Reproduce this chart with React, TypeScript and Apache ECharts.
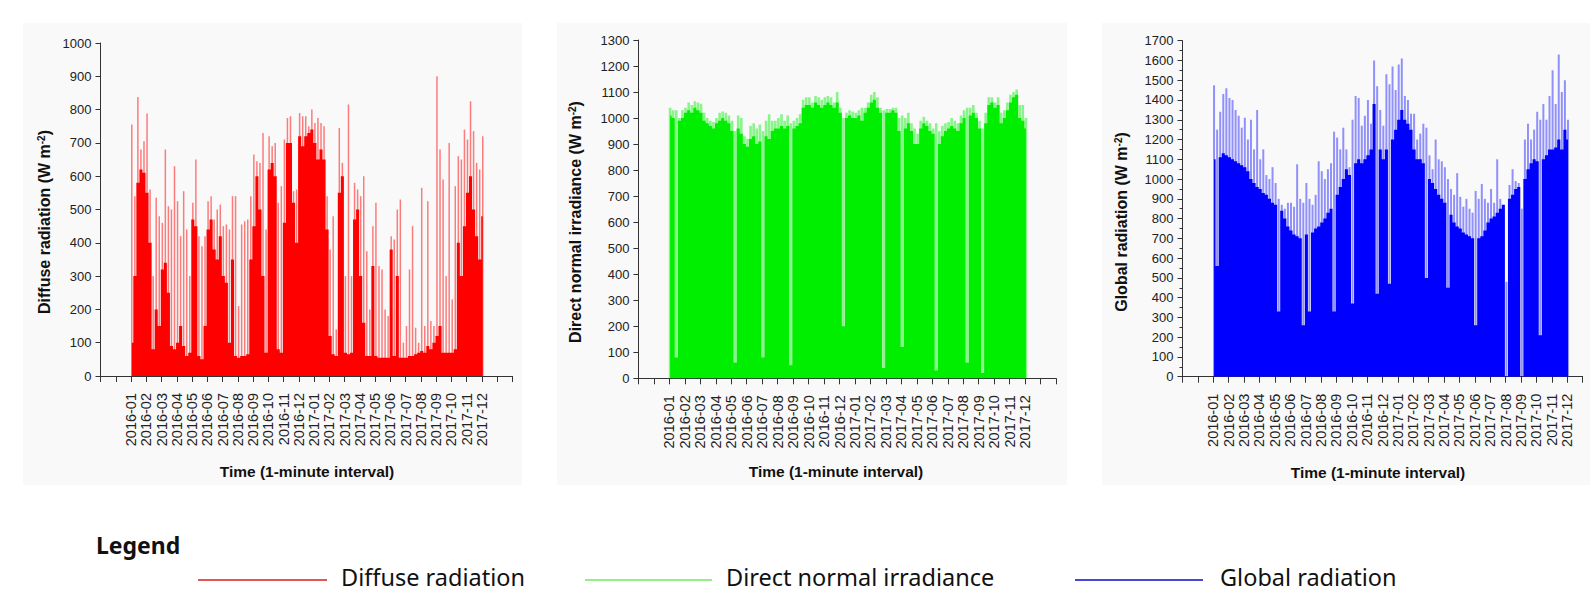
import React, { useEffect, useRef } from "react";
import * as echarts from "echarts";

// ---- axis / tick labels ----
const MONTH_LABELS = [
  "2016-01", "2016-02", "2016-03", "2016-04", "2016-05", "2016-06",
  "2016-07", "2016-08", "2016-09", "2016-10", "2016-11", "2016-12",
  "2017-01", "2017-02", "2017-03", "2017-04", "2017-05", "2017-06",
  "2017-07", "2017-08", "2017-09", "2017-10", "2017-11", "2017-12",
];
const SAMPLE_STEP = 0.2; // months between samples (5 samples per month)

// ---- Diffuse radiation (W m-2): solid level and spike maxima ----
const diffuseDense = [
  100, 300, 580, 620, 610, 550, 400, 80, 200, 150,
  320, 340, 250, 90, 80, 100, 150, 90, 60, 70,
  470, 450, 60, 50, 150, 440, 470, 380, 350, 420,
  300, 280, 100, 350, 60, 55, 60, 60, 65, 350,
  450, 600, 500, 300, 70, 620, 640, 600, 80, 70,
  460, 700, 700, 520, 400, 720, 690, 720, 730, 740,
  700, 650, 680, 650, 440, 120, 65, 60, 550, 600,
  70, 65, 70, 470, 500, 300, 160, 60, 60, 330,
  60, 55, 55, 55, 55, 380, 60, 300, 55, 55,
  55, 60, 60, 65, 70, 75, 70, 90, 80, 100,
  120, 150, 70, 70, 70, 70, 80, 400, 300, 450,
  550, 600, 500, 420, 350, 480,
];
const diffusePeak = [
  755, 540, 838, 680, 705, 788, 560, 300, 535, 480,
  460, 680, 510, 500, 630, 525, 420, 555, 440, 300,
  520, 650, 420, 390, 420, 525, 540, 470, 500, 515,
  450, 455, 440, 540, 540, 210, 455, 465, 470, 540,
  665, 645, 640, 730, 440, 720, 690, 700, 520, 570,
  710, 775, 780, 555, 560, 790, 780, 780, 750, 800,
  760, 775, 760, 750, 540, 380, 480, 140, 745, 640,
  300, 815, 300, 580, 560, 540, 600, 375, 200, 450,
  520, 330, 320, 200, 180, 420, 410, 500, 530, 100,
  150, 320, 450, 145, 100, 565, 150, 525, 165, 150,
  900, 680, 590, 300, 700, 230, 570, 660, 650, 740,
  710, 825, 735, 640, 620, 720,
];

// ---- Direct normal irradiance (W m-2) ----
const directDense = [
  1010, 1000, 80, 990, 1000, 1020, 1030, 1020, 1040, 1030,
  1020, 990, 980, 970, 960, 980, 990, 1000, 990, 980,
  950, 60, 960, 940, 900, 890, 920, 930, 900, 910,
  80, 930, 920, 950, 960, 960, 970, 960, 970, 50,
  960, 970, 980, 1040, 1050, 1050, 1040, 1060, 1050, 1040,
  1050, 1060, 1050, 1040, 1060, 1020, 200, 1000, 1010, 1000,
  1000, 1010, 990, 1020, 1040, 1060, 1070, 1040, 1020, 40,
  1020, 1020, 1030, 1020, 950, 120, 960, 980, 950, 900,
  900, 960, 980, 970, 950, 940, 30, 900, 930, 950,
  960, 970, 960, 950, 980, 1000, 60, 1010, 1020, 1000,
  960, 20, 980, 1050, 1060, 1040, 1050, 980, 1000, 1030,
  1060, 1080, 1090, 1000, 990, 960,
];
const directPeak = [
  1040, 1030, 1030, 1000, 1030, 1040, 1060, 1050, 1065, 1060,
  1055, 1020, 1000, 990, 985, 1000, 1020, 1025, 1020, 1010,
  990, 950, 1010, 1000, 930, 920, 970, 980, 960, 975,
  950, 990, 1015, 990, 990, 1000, 1015, 990, 1010, 980,
  990, 1000, 1015, 1070, 1080, 1080, 1060, 1085, 1080, 1070,
  1080, 1085, 1080, 1060, 1100, 1040, 1000, 1020, 1030, 1025,
  1020, 1030, 1040, 1040, 1060, 1090, 1100, 1080, 1040, 1030,
  1035, 1035, 1040, 1040, 1000, 1010, 1000, 1020, 980, 960,
  940, 990, 1005, 990, 980, 960, 980, 950, 970, 980,
  985, 1000, 990, 980, 1010, 1030, 1040, 1040, 1050, 1020,
  990, 960, 1020, 1080, 1080, 1060, 1080, 1020, 1030, 1060,
  1090, 1100, 1110, 1050, 1050, 1000,
];

// ---- Global radiation (W m-2) ----
const globalDense = [
  1100, 560, 1110, 1130, 1120, 1110, 1100, 1090, 1080, 1070,
  1060, 1040, 1000, 980, 960, 950, 930, 920, 900, 880,
  870, 330, 840, 800, 760, 740, 720, 710, 700, 260,
  720, 330, 730, 750, 760, 780, 800, 830, 850, 330,
  920, 960, 1000, 1050, 1020, 370, 1080, 1100, 1080, 1100,
  1120, 1150, 1380, 420, 1150, 1100, 1150, 470, 1200, 1250,
  1300, 1350, 1300, 1280, 1250, 1150, 1100, 1100, 1080, 500,
  1000, 980, 950, 920, 900, 880, 450, 820, 780, 760,
  750, 730, 720, 710, 700, 260, 700, 710, 740, 780,
  800, 810, 830, 850, 870, 0, 900, 920, 950, 960,
  0, 1000, 1050, 1080, 1100, 1090, 210, 1100, 1120, 1150,
  1150, 1160, 1200, 1150, 1250, 1200,
];
const globalPeak = [
  1475, 1250, 1340, 1430, 1460, 1410, 1400, 1350, 1320, 1260,
  1310, 1200, 1300, 1150, 1350, 1100, 1150, 1020, 1000, 1060,
  980, 900, 870, 850, 880, 880, 860, 1075, 900, 880,
  980, 900, 870, 920, 1090, 1040, 1000, 1050, 1080, 1240,
  1210, 1150, 1260, 1150, 1060, 1300, 1420, 1410, 1270, 1320,
  1400, 1280, 1600, 1470, 1350, 1270, 1530, 1480, 1570, 1450,
  1580, 1610, 1420, 1400, 1330, 1330, 1200, 1230, 1280, 1260,
  1120, 1050, 1200, 1100, 1090, 1060, 1000, 950, 920, 1030,
  910, 860, 900, 850, 830, 940, 900, 975, 900, 880,
  950, 880, 1100, 900, 850, 480, 970, 1050, 990, 980,
  850, 1200, 1280, 1200, 1250, 1340, 1300, 1380, 1300, 1420,
  1550, 1380, 1630, 1440, 1500, 1300,
];

const toPoints = (arr: number[]) => arr.map((v, i) => [i * SAMPLE_STEP + 0.05, v]);

const TICK_FONT = "Liberation Sans, Arial, sans-serif";
const AXIS_COLOR = "#333";

type Panel = {
  left: number; top: number; width: number; height: number;
  xMax: number; yMax: number; minor: boolean;
  dense: number[]; peak: number[]; color: string; peakColor: string; peakWidth: number;
};

const panels: Panel[] = [
  { left: 100.5, top: 43, width: 412, height: 333, xMax: 25, yMax: 1000, minor: false,
    dense: diffuseDense, peak: diffusePeak, color: "#ff0000", peakColor: "rgba(255,0,0,0.5)", peakWidth: 1.5 },
  { left: 638.4, top: 40, width: 417.7, height: 338.3, xMax: 25, yMax: 1300, minor: false,
    dense: directDense, peak: directPeak, color: "#00ee00", peakColor: "rgba(0,238,0,0.45)", peakWidth: 2.6 },
  { left: 1182.5, top: 40.7, width: 400.1, height: 336, xMax: 24, yMax: 1700, minor: true,
    dense: globalDense, peak: globalPeak, color: "#0000ff", peakColor: "rgba(0,0,255,0.42)", peakWidth: 2 },
];

function yTitle(x: number, y: number, label: string) {
  return {
    type: "text", x, y, rotation: Math.PI / 2, z: 10,
    style: {
      text: label + " (W m{sup|-2})",
      fontSize: 16, fontWeight: "bold", fontFamily: TICK_FONT, fill: "#111",
      align: "center", verticalAlign: "middle",
      rich: { sup: { fontSize: 10, fontWeight: "bold", fontFamily: TICK_FONT, fill: "#111", verticalAlign: "top" } },
    },
  };
}
function xTitle(x: number, y: number) {
  return {
    type: "text", x, y, z: 10,
    style: { text: "Time (1-minute interval)", fontSize: 15.5, fontWeight: "bold", fontFamily: TICK_FONT,
      fill: "#111", align: "center", verticalAlign: "middle" },
  };
}

export default function App() {
  const ref = useRef<HTMLDivElement>(null);
  useEffect(() => {
    if (!ref.current) return;
    const chart = echarts.init(ref.current, undefined, { renderer: "svg" });
    const LEG_FONT = "Noto Sans, Open Sans, sans-serif";
    const option: any = {
      animation: false,
      backgroundColor: "#ffffff",
      grid: panels.map((p) => ({ left: p.left, top: p.top, width: p.width, height: p.height, containLabel: false })),
      xAxis: panels.map((p, k) => ({
        type: "value", gridIndex: k, min: -2, max: p.xMax, interval: 1,
        axisLine: { show: true, onZero: false, lineStyle: { color: AXIS_COLOR, width: 1 } },
        axisTick: { show: true, length: 6, lineStyle: { color: AXIS_COLOR } },
        axisLabel: {
          rotate: 90, margin: 17, fontSize: 14.5, fontFamily: TICK_FONT, color: "#222",
          showMinLabel: true, showMaxLabel: true,
          formatter: (v: number) => {
            const idx = Math.round(v);
            return idx >= 0 && idx < MONTH_LABELS.length ? MONTH_LABELS[idx] : "";
          },
        },
        splitLine: { show: false },
      })),
      yAxis: panels.map((p, k) => ({
        type: "value", gridIndex: k, min: 0, max: p.yMax, interval: 100,
        axisLine: { show: true, onZero: false, lineStyle: { color: AXIS_COLOR, width: 1 } },
        axisTick: { show: true, length: 5, lineStyle: { color: AXIS_COLOR } },
        minorTick: { show: p.minor, splitNumber: 2, length: 3, lineStyle: { color: AXIS_COLOR } },
        axisLabel: { fontSize: 13, margin: 9, fontFamily: TICK_FONT, color: "#222",
          formatter: (v: number) => String(v) },
        splitLine: { show: false },
      })),
      series: panels.flatMap((p, k) => [
        {
          type: "line", xAxisIndex: k, yAxisIndex: k, data: toPoints(p.dense), step: "middle",
          symbol: "none", showSymbol: false, silent: true,
          lineStyle: { width: 0, opacity: 0 }, areaStyle: { color: p.color, opacity: 1 },
        },
        {
          type: "bar", xAxisIndex: k, yAxisIndex: k, data: toPoints(p.peak), barWidth: p.peakWidth,
          silent: true, itemStyle: { color: p.peakColor },
        },
      ]),
      graphic: [
        { type: "rect", z: -10, shape: { x: 23, y: 23, width: 499, height: 462 }, style: { fill: "#f9f9f9" } },
        { type: "rect", z: -10, shape: { x: 557, y: 23, width: 510, height: 462 }, style: { fill: "#f9f9f9" } },
        { type: "rect", z: -10, shape: { x: 1102, y: 23, width: 488, height: 462 }, style: { fill: "#f9f9f9" } },
        yTitle(44, 222, "Diffuse radiation"),
        yTitle(575, 222, "Direct normal irradiance"),
        yTitle(1121, 222, "Global radiation"),
        xTitle(307, 471),
        xTitle(836, 471),
        xTitle(1378, 472),
        { type: "text", x: 96, y: 545, z: 10,
          style: { text: "Legend", fontSize: 23, fontWeight: "bold", fontFamily: LEG_FONT, fill: "#111", verticalAlign: "middle" } },
        { type: "line", z: 10, shape: { x1: 198, y1: 580, x2: 327, y2: 580 }, style: { stroke: "#e05858", lineWidth: 2 } },
        { type: "text", x: 341, y: 577, z: 10,
          style: { text: "Diffuse radiation", fontSize: 23.5, fontFamily: LEG_FONT, fill: "#111", verticalAlign: "middle" } },
        { type: "line", z: 10, shape: { x1: 585, y1: 580, x2: 712, y2: 580 }, style: { stroke: "#96ee88", lineWidth: 2 } },
        { type: "text", x: 726, y: 577, z: 10,
          style: { text: "Direct normal irradiance", fontSize: 23.5, fontFamily: LEG_FONT, fill: "#111", verticalAlign: "middle" } },
        { type: "line", z: 10, shape: { x1: 1075, y1: 580, x2: 1203, y2: 580 }, style: { stroke: "#4848d8", lineWidth: 2 } },
        { type: "text", x: 1220, y: 577, z: 10,
          style: { text: "Global radiation", fontSize: 23.5, fontFamily: LEG_FONT, fill: "#111", verticalAlign: "middle" } },
      ],
    };
    chart.setOption(option);
    return () => chart.dispose();
  }, []);
  return (
    <div
      ref={ref}
      style={{ position: "absolute", left: 0, top: 0, width: 1590, height: 594, background: "#fff" }}
    />
  );
}
